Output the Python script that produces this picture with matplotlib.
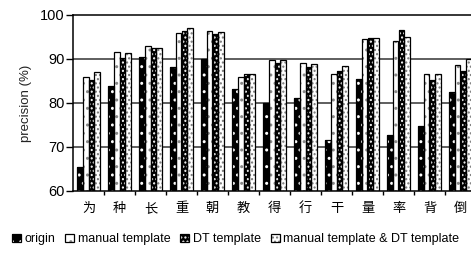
import numpy as np
import matplotlib.pyplot as plt
from matplotlib.patches import Patch

plt.rcParams['font.family'] = ['Liberation Sans', 'DejaVu Sans']
plt.rcParams['hatch.linewidth'] = 1.0

chars = ['为', '种', '长', '重', '朝', '教', '得', '行', '干', '量', '率', '背', '倒']
origin = [65.5, 83.9, 90.5, 88.1, 89.9, 83.1, 79.9, 81.2, 71.7, 85.5, 72.8, 74.8, 82.6]
manual = [85.8, 91.7, 93.0, 96.0, 96.4, 86.0, 89.8, 89.2, 86.7, 94.5, 94.0, 86.5, 88.6]
dt = [85.2, 90.3, 92.6, 96.4, 95.7, 86.5, 89.0, 88.1, 87.3, 94.8, 96.7, 85.2, 87.2]
both = [87.1, 91.4, 92.6, 97.0, 96.1, 86.5, 89.8, 88.9, 88.4, 94.8, 95.1, 86.5, 89.9]
names = ['origin', 'manual template', 'DT template', 'manual template & DT template']

# face, hatch colour, hatch
styles = [('black', 'white', '..'),
          ('white', '#888888', '..'),
          ('black', 'white', '....'),
          ('white', '#777777', '....')]

fig = plt.figure(figsize=(4.71, 2.54), dpi=100)
ax = fig.add_axes([73 / 471, 63 / 254, 403 / 471, 176 / 254])

x = np.arange(len(chars))
w = 0.19
handles = []
for i, (vals, (fc, hc, h)) in enumerate(zip([origin, manual, dt, both], styles)):
    pos = x + (i - 1.5) * w
    h_vals = np.array(vals) - 60
    ax.bar(pos, h_vals, w, bottom=60, facecolor=fc, edgecolor=hc, hatch=h, linewidth=0, zorder=2)
    ax.bar(pos, h_vals, w, bottom=60, fill=False, edgecolor='black', linewidth=0.9, zorder=3)
    handles.append((Patch(facecolor=fc, edgecolor=hc, hatch=h, linewidth=0),
                    Patch(fill=False, edgecolor='black', linewidth=0.9)))

ax.set_xlim(-0.5, len(chars) - 0.5)
ax.set_ylim(60, 100)
ax.set_yticks([60, 70, 80, 90, 100])
ax.tick_params(axis='y', labelsize=10.5, length=5, width=1, direction='out', pad=1)
for yv in [70, 80, 90]:
    ax.axhline(yv, color='#333333', linewidth=1.1, zorder=1)

ax.set_xticks(x)
ax.set_xticklabels(chars, family=['Noto Sans CJK SC'], fontsize=9.5)
ax.set_xticks(np.arange(0.5, len(chars) - 0.5), minor=True)
ax.tick_params(axis='x', which='major', length=0, pad=8)
ax.tick_params(axis='x', which='minor', length=3, width=1, direction='out')

ax.spines['right'].set_visible(False)
for s in ['left', 'top', 'bottom']:
    ax.spines[s].set_linewidth(1.1)

ax.set_ylabel('precision (%)', fontsize=9.5, labelpad=6, color='#222222')

fig.legend(handles, names, loc='lower center', bbox_to_anchor=(0.5, 0.0), ncol=4, frameon=False,
           fontsize=9, handlelength=0.7, handleheight=0.7, handletextpad=0.3, columnspacing=0.8,
           borderaxespad=0.3)

fig.savefig('out.png', dpi=100)
